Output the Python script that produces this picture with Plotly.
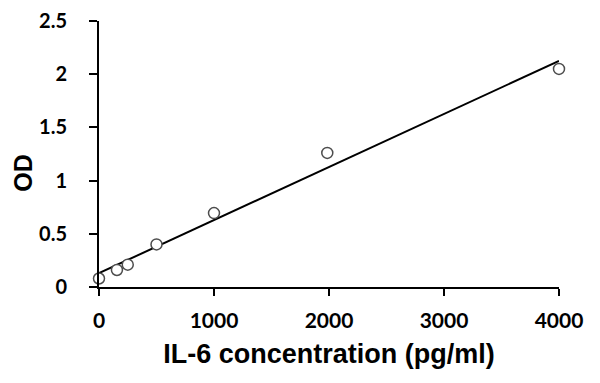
import plotly.graph_objects as go

# Data
conc = [0, 156, 250, 500, 1000, 1985, 4000]          # IL-6 concentration (pg/ml)
od = [0.08, 0.16, 0.21, 0.40, 0.695, 1.26, 2.05]     # OD
trend_x = [0, 4000]
trend_y = [0.13, 2.125]

x_ticks = [0, 1000, 2000, 3000, 4000]
y_ticks = [0, 0.5, 1, 1.5, 2, 2.5]
y_tick_text = ["0", "0.5", "1", "1.5", "2", "2.5"]

TICK_FONT = "Lato"
TITLE_FONT = "Liberation Sans, Arial"

fig = go.Figure()
fig.add_trace(go.Scatter(
    x=trend_x, y=trend_y, mode="lines",
    line=dict(color="black", width=2),
    hoverinfo="skip", showlegend=False, cliponaxis=False,
))
fig.add_trace(go.Scatter(
    x=conc, y=od, mode="markers",
    marker=dict(size=11, color="white", line=dict(color="#4d4d4d", width=1.5)),
    showlegend=False, cliponaxis=False,
))

# page body has an 8px default margin, so the figure is 8px smaller and offset
fig.update_layout(
    width=592, height=375,
    margin=dict(l=91, r=41, t=13, b=96),
    paper_bgcolor="white", plot_bgcolor="white",
    font=dict(family=TICK_FONT, color="black"),
    xaxis=dict(
        range=[0, 4000], tickvals=x_ticks, automargin=False,
        showline=True, linecolor="black", linewidth=2,
        ticks="outside", ticklen=7, tickwidth=2, tickcolor="black",
        showgrid=False, zeroline=False,
        tickfont=dict(family=TICK_FONT, size=21, weight="bold", color="black"),
        ticklabelstandoff=7,
        title=dict(text="IL-6 concentration (pg/ml)",
                   font=dict(family=TITLE_FONT, size=27, weight="bold", color="black"),
                   standoff=13),
    ),
    yaxis=dict(
        range=[0, 2.5], tickvals=y_ticks, ticktext=y_tick_text, automargin=False,
        showline=True, linecolor="black", linewidth=2,
        ticks="outside", ticklen=8, tickwidth=2, tickcolor="black",
        showgrid=False, zeroline=False,
        tickfont=dict(family=TICK_FONT, size=20, weight="bold", color="black"),
        ticklabelstandoff=18, ticklabeloverflow="allow",
    ),
    annotations=[dict(
        text="OD", textangle=-90, xref="paper", yref="paper",
        x=-0.165, y=0.43, xanchor="center", yanchor="middle", showarrow=False,
        font=dict(family=TITLE_FONT, size=25, weight="bold", color="black"),
    )],
)

fig.write_html("out.html")
